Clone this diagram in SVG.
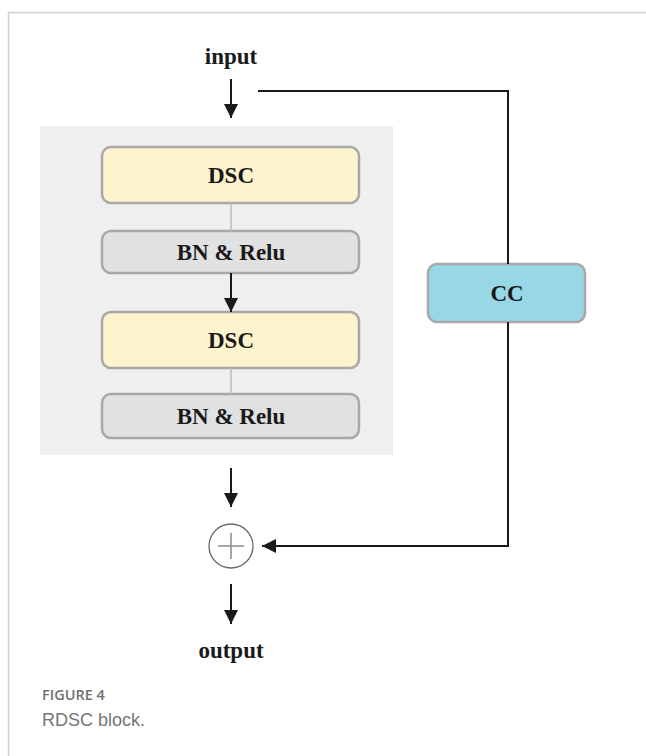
<svg xmlns="http://www.w3.org/2000/svg" width="646" height="756" viewBox="0 0 646 756">
<defs>
<marker id="ah" viewBox="0 0 14 14" markerWidth="14" markerHeight="14" refX="14" refY="7" orient="auto" markerUnits="userSpaceOnUse">
<path d="M0,0 L14,7 L0,14 Z" fill="#1a1a1a"/>
</marker>
<style>
.lbl{font-family:"Liberation Serif","Times New Roman",serif;font-weight:bold;font-size:23px;fill:#1a1a1a;text-anchor:middle}
.box{stroke:#a8a8a8;stroke-width:2.5}
.dsc{fill:#fdf3cd}
.bn{fill:#e0e1e3}
.cc{fill:#98d8e6}
.wire{stroke:#1a1a1a;stroke-width:2;fill:none}
.thin{stroke:#bdbdbd;stroke-width:1.5;fill:none}
</style>
</defs>
<rect width="646" height="756" fill="#ffffff"/>
<path d="M8.5,756 V12.5 H646" fill="none" stroke="#cfcfcf" stroke-width="1.5"/>
<rect id="panel" x="40" y="126" width="353" height="329" fill="#efefef"/>
<g id="input"><text class="lbl" x="231" y="64">input</text></g>
<g id="dsc1"><rect class="box dsc" x="102" y="147" width="257" height="56" rx="9"/><text class="lbl" x="231" y="183">DSC</text></g>
<g id="bn1"><rect class="box bn" x="102" y="231" width="257" height="42" rx="9"/><text class="lbl" x="231" y="260">BN &amp; Relu</text></g>
<g id="dsc2"><rect class="box dsc" x="102" y="312" width="257" height="56" rx="9"/><text class="lbl" x="231" y="348">DSC</text></g>
<g id="bn2"><rect class="box bn" x="102" y="394" width="257" height="44" rx="9"/><text class="lbl" x="231" y="424">BN &amp; Relu</text></g>
<g id="cc"><rect class="box cc" x="428" y="264" width="157" height="58" rx="9"/><text class="lbl" x="507" y="301">CC</text></g>
<g id="add"><circle cx="231" cy="546" r="22" fill="#ffffff" stroke="#6a6a6a" stroke-width="1.3"/><path d="M218,546 H244 M231,533 V559" stroke="#8a8a8a" stroke-width="1.5"/></g>
<g id="output"><text class="lbl" x="231" y="658">output</text></g>
<g id="connectors">
<path class="wire" d="M231,79 V118" marker-end="url(#ah)"/>
<path class="wire" d="M258,91 H508 V264"/>
<path class="wire" d="M508,322 V546 H262" marker-end="url(#ah)"/>
<path class="thin" d="M231,203 V231"/>
<path class="thin" d="M231,368 V394"/>
<path class="wire" d="M231,273 V312" marker-end="url(#ah)"/>
<path class="wire" d="M231,468 V507" marker-end="url(#ah)"/>
<path class="wire" d="M231,584 V624" marker-end="url(#ah)"/>
</g>
<g id="caption">
<text x="42" y="700" font-family="'Open Sans','Liberation Sans',sans-serif" font-weight="600" font-size="14.5" fill="#707070">FIGURE 4</text>
<text x="42" y="726" font-family="'Liberation Sans',Arial,sans-serif" font-size="18" fill="#757575">RDSC block.</text>
</g>
</svg>
